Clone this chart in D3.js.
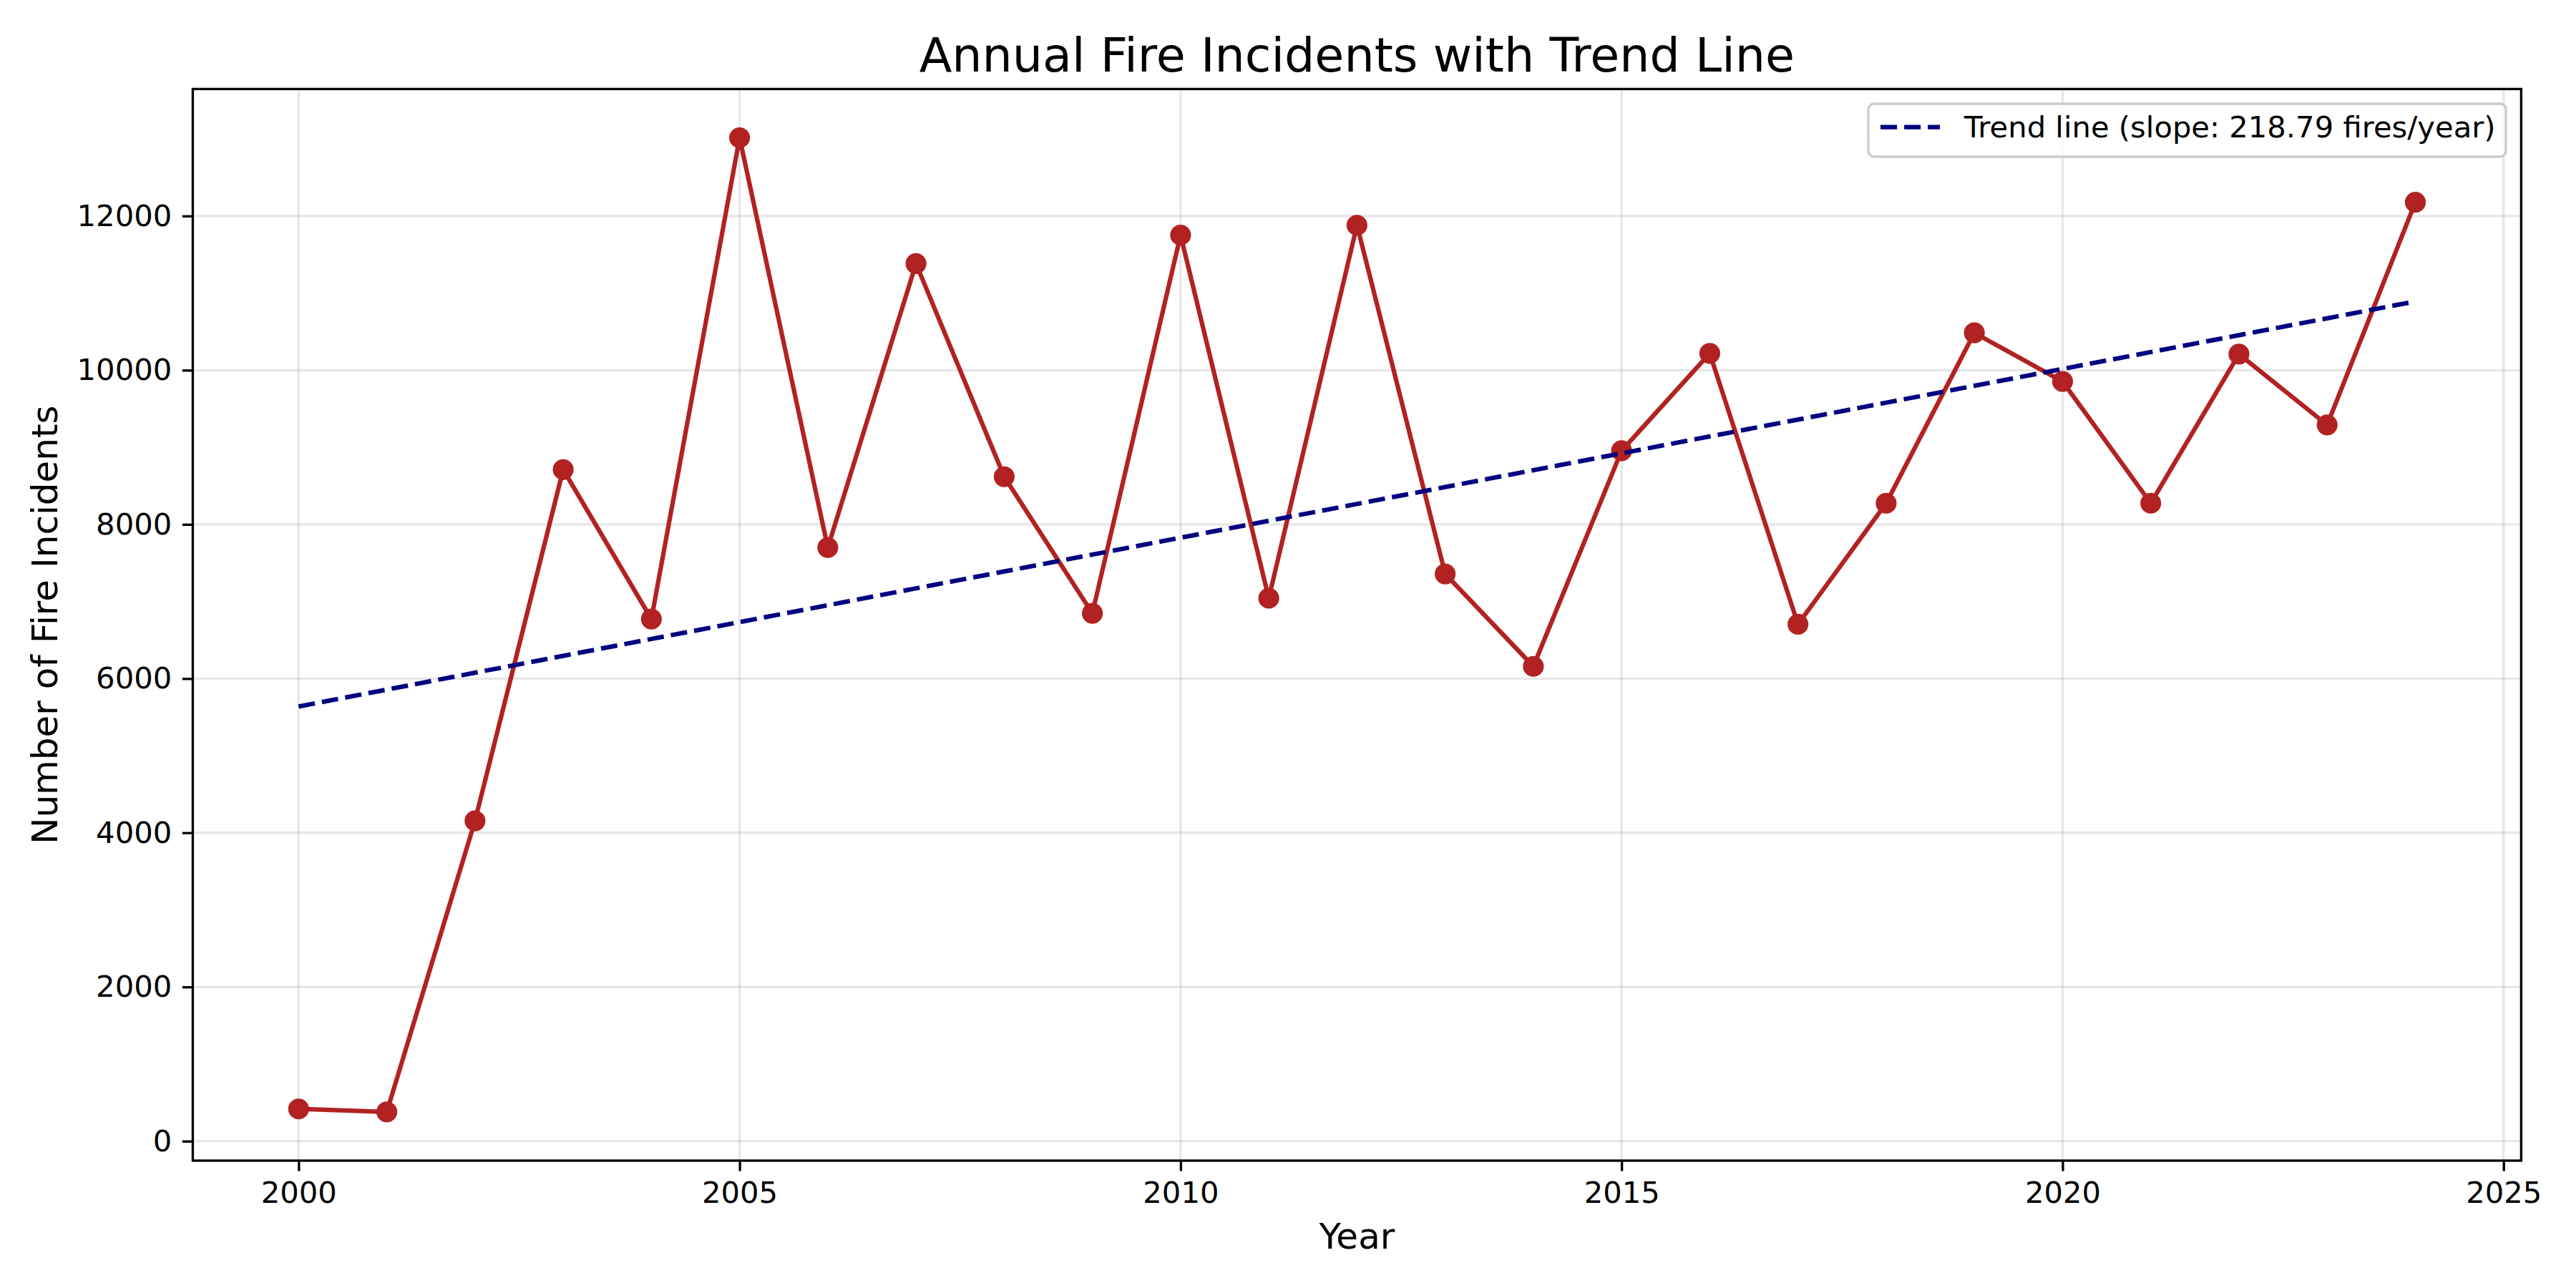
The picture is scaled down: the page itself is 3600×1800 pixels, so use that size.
<!DOCTYPE html>
<html>
<head>
<meta charset="utf-8">
<script src="https://cdn.jsdelivr.net/npm/d3@7"></script>
<style>
  html, body { margin: 0; padding: 0; background: #fff; }
  svg { display: block; font-family: "DejaVu Sans", sans-serif; }
</style>
</head>
<body>
<svg id="chart" width="3600" height="1800"></svg>
<script>
// ---- data ----
const years = [2000, 2001, 2002, 2003, 2004, 2005, 2006, 2007, 2008, 2009, 2010, 2011, 2012,
               2013, 2014, 2015, 2016, 2017, 2018, 2019, 2020, 2021, 2022, 2023, 2024];
const incidents = [418, 379, 4155, 8710, 6772, 13015, 7699, 11382, 8618, 6846, 11752, 7042, 11880,
                   7357, 6158, 8955, 10218, 6704, 8274, 10484, 9853, 8274, 10208, 9290, 12178];
const xTicks = [2000, 2005, 2010, 2015, 2020, 2025];
const yTicks = [0, 2000, 4000, 6000, 8000, 10000, 12000];
const titleText = "Annual Fire Incidents with Trend Line";
const xLabel = "Year";
const yLabel = "Number of Fire Incidents";
const legendText = "Trend line (slope: 218.79 fires/year)";

// ---- trend (least squares) ----
const n = years.length;
const mx = d3.mean(years), my = d3.mean(incidents);
let sxy = 0, sxx = 0;
for (let i = 0; i < n; i++) { sxy += (years[i] - mx) * (incidents[i] - my); sxx += (years[i] - mx) ** 2; }
const slope = sxy / sxx, intercept = my - slope * mx;
const trend = years.map(y => ({x: y, y: slope * y + intercept}));

// ---- layout ----
const L = 269.4, R = 3523.4, T = 124.4, B = 1622;
const svg = d3.select("#chart");

const xr = d3.extent(years), xpad = (xr[1] - xr[0]) * 0.05;
const yr = d3.extent(incidents), ypad = (yr[1] - yr[0]) * 0.05;
const x = d3.scaleLinear().domain([xr[0] - xpad, xr[1] + xpad]).range([L, R]);
const y = d3.scaleLinear().domain([yr[0] - ypad, yr[1] + ypad]).range([B, T]);

// grid
const grid = svg.append("g");
grid.selectAll("line.vx").data(xTicks).join("line")
  .attr("x1", d => x(d)).attr("x2", d => x(d)).attr("y1", T).attr("y2", B)
  .attr("stroke", "#b0b0b0").attr("stroke-opacity", 0.3).attr("stroke-width", 3.33);
grid.selectAll("line.hy").data(yTicks).join("line")
  .attr("y1", d => y(d)).attr("y2", d => y(d)).attr("x1", L).attr("x2", R)
  .attr("stroke", "#b0b0b0").attr("stroke-opacity", 0.3).attr("stroke-width", 3.33);

// data line
const line = d3.line().x((d, i) => x(years[i])).y(d => y(d));
svg.append("path").datum(incidents).attr("d", line)
  .attr("fill", "none").attr("stroke", "#b22222").attr("stroke-width", 6.25)
  .attr("stroke-linejoin", "round").attr("stroke-linecap", "round");
svg.selectAll("circle.pt").data(incidents).join("circle")
  .attr("cx", (d, i) => x(years[i])).attr("cy", d => y(d)).attr("r", 12.5)
  .attr("fill", "#b22222").attr("stroke", "#b22222").attr("stroke-width", 4.17);

// trend line
svg.append("path").datum(trend)
  .attr("d", d3.line().x(d => x(d.x)).y(d => y(d.y)))
  .attr("fill", "none").attr("stroke", "#000080").attr("stroke-width", 6.25)
  .attr("stroke-dasharray", "23.1,10");

// axes
const xAxis = d3.axisBottom(x).tickValues(xTicks).tickFormat(d3.format("d"))
  .tickSize(14.6).tickPadding(14.6);
const yAxis = d3.axisLeft(y).tickValues(yTicks).tickFormat(d3.format("d"))
  .tickSize(14.6).tickPadding(14.6);
const gx = svg.append("g").attr("transform", `translate(0,${B})`).call(xAxis);
const gy = svg.append("g").attr("transform", `translate(${L},0)`).call(yAxis);
[gx, gy].forEach(g => {
  g.select(".domain").remove();
  g.selectAll(".tick line").attr("stroke", "#000").attr("stroke-width", 3.33);
  g.selectAll(".tick text").attr("fill", "#000").attr("font-size", 41.7)
    .attr("font-family", "DejaVu Sans");
});

// spines
svg.append("rect").attr("x", L).attr("y", T).attr("width", R - L).attr("height", B - T)
  .attr("fill", "none").attr("stroke", "#000").attr("stroke-width", 3.33);

// title & labels
svg.append("text").attr("x", (L + R) / 2).attr("y", 99.5).attr("text-anchor", "middle")
  .attr("font-size", 66.7).attr("fill", "#000").text(titleText);
svg.append("text").attr("x", (L + R) / 2).attr("y", 1745).attr("text-anchor", "middle")
  .attr("font-size", 50).attr("fill", "#000").text(xLabel);
svg.append("text").attr("transform", `translate(80,${(T + B) / 2}) rotate(-90)`)
  .attr("text-anchor", "middle").attr("font-size", 50).attr("fill", "#000").text(yLabel);

// legend
const lg = svg.append("g");
lg.append("rect").attr("x", 2611).attr("y", 145).attr("width", 891).attr("height", 74)
  .attr("rx", 8).attr("fill", "#fff").attr("fill-opacity", 0.8)
  .attr("stroke", "#cccccc").attr("stroke-width", 3.33);
lg.append("line").attr("x1", 2628).attr("x2", 2711).attr("y1", 177.5).attr("y2", 177.5)
  .attr("stroke", "#000080").attr("stroke-width", 6.25).attr("stroke-dasharray", "23.1,10");
lg.append("text").attr("x", 2745).attr("y", 192).attr("font-size", 41.7).attr("fill", "#000")
  .text(legendText);
</script>
</body>
</html>
